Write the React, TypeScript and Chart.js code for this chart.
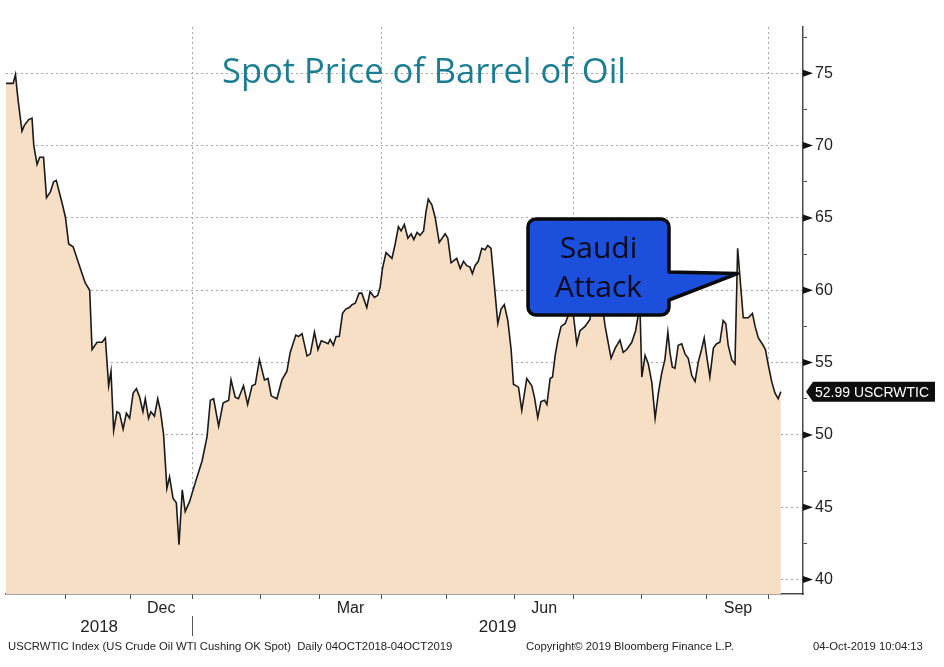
import React, { useEffect, useRef } from 'react';
import { Chart, registerables } from 'chart.js';

Chart.register(...registerables);

// ---- data (x = trading-day index from 04-Oct-2018, y = USD per barrel) ----
const tradingDay = [
  0, 2.4, 3.2, 4.0, 5.4, 6.2, 7.7, 8.8, 9.4, 10.5,
  11.4, 12.7, 13.7, 15.0, 16.1, 17.0, 19.0, 20.1, 21.2, 22.7,
  25.7, 26.8, 28.3, 29.1, 30.8, 32.5, 33.6, 34.7, 35.5, 36.4,
  37.5, 38.4, 39.6, 40.7, 41.8, 43.0, 44.1, 45.2, 46.3, 47.1,
  48.2, 49.0, 50.2, 51.3, 52.2, 53.3, 54.4, 55.3, 56.5, 57.6,
  58.5, 59.6, 60.6, 62.1, 64.0, 66.3, 68.0, 69.1, 70.2, 71.9,
  73.4, 75.3, 76.1, 77.5, 78.6, 80.3, 81.7, 83.2, 84.3, 85.7,
  87.4, 88.6, 89.7, 91.6, 93.3, 95.0, 96.1, 98.0, 98.9, 100.1,
  101.8, 102.9, 104.3, 105.5, 106.6, 107.9, 108.9, 109.6, 110.7, 111.6,
  112.7, 113.8, 114.9, 116.1, 117.0, 118.1, 119.4, 120.3, 122.0, 123.1,
  124.6, 125.7, 126.5, 127.3, 128.5, 130.5, 131.6, 132.7, 133.6, 134.7,
  135.9, 137.0, 137.9, 139.0, 140.0, 141.2, 142.0, 142.8, 144.0, 145.1,
  146.5, 148.5, 149.4, 150.5, 152.4, 153.6, 154.7, 155.8, 156.9, 157.7,
  158.6, 159.7, 160.9, 162.0, 162.9, 164.0, 165.2, 166.3, 167.4, 168.5,
  169.7, 170.8, 171.6, 173.3, 174.4, 176.1, 177.8, 178.7, 179.8, 180.9,
  182.1, 182.9, 184.0, 184.8, 185.7, 186.6, 187.7, 189.1, 190.2, 191.4,
  193.0, 194.1, 195.8, 197.5, 198.2, 199.2, 200.2, 201.2, 202.6, 204.6,
  206.0, 207.6, 208.7, 209.9, 211.6, 212.9, 213.8, 214.4, 215.0, 216.1,
  217.2, 218.4, 219.5, 220.6, 221.7, 222.8, 223.8, 224.5, 225.3, 226.2,
  227.3, 228.5, 229.6, 230.7, 231.9, 233.0, 234.1, 235.2, 236.1, 236.9,
  238.0, 239.2, 240.3, 241.4, 242.5, 243.4, 244.2, 245.4, 246.5, 247.4,
  248.5, 249.3, 251.0, 252.4, 253.3, 254.4, 255.7, 256.8, 257.7, 258.9,
  260.0, 261.1, 262.0,
];

const priceUSD = [
  74.3, 74.3, 74.9, 73.3, 71.0, 71.4, 71.8, 71.9, 70.0, 68.7,
  69.2, 69.2, 66.4, 66.8, 67.5, 67.6, 66.0, 65.05, 63.2, 63.0,
  61.15, 60.5, 60.0, 55.9, 56.4, 56.4, 56.7, 53.4, 54.4, 50.3,
  51.6, 51.5, 50.4, 51.5, 51.15, 52.9, 53.2, 52.6, 51.6, 52.5,
  51.15, 51.6, 51.3, 52.5, 51.7, 50.0, 46.3, 47.1, 45.6, 45.3,
  42.4, 46.2, 44.7, 45.4, 46.7, 48.2, 49.9, 52.4, 52.5, 50.6,
  52.2, 52.4, 53.8, 52.6, 52.5, 53.4, 52.1, 53.4, 53.5, 55.2,
  53.8, 53.9, 52.7, 52.5, 53.8, 54.4, 55.7, 56.9, 56.8, 57.0,
  55.45, 55.6, 57.1, 55.9, 56.5, 56.4, 56.3, 56.6, 56.2, 56.8,
  56.8, 58.4, 58.7, 58.8, 59.0, 59.1, 59.8, 59.8, 58.8, 59.9,
  59.5, 59.65, 60.2, 61.5, 62.6, 62.2, 63.2, 64.4, 64.1, 64.55,
  63.6, 63.9, 63.5, 64.0, 63.8, 64.1, 65.4, 66.3, 65.9, 65.05,
  63.3, 63.9, 63.6, 61.9, 62.2, 61.5, 62.0, 61.7, 61.6, 61.15,
  61.7, 62.0, 62.9, 62.8, 63.1, 62.9, 60.2, 57.7, 58.7, 59.0,
  57.9, 55.9, 53.5, 53.3, 51.7, 53.9, 53.4, 52.6, 51.2, 52.3,
  52.4, 52.1, 53.9, 54.0, 55.5, 56.55, 57.5, 57.7, 58.3, 59.1,
  56.3, 57.2, 57.5, 58.0, 60.4, 60.2, 60.2, 59.6, 57.5, 55.3,
  56.0, 56.55, 55.7, 55.9, 56.4, 57.2, 58.3, 58.6, 54.0, 55.5,
  54.9, 53.6, 51.15, 52.9, 54.25, 55.2, 57.1, 55.7, 54.7, 54.6,
  56.2, 56.3, 55.6, 55.3, 54.1, 53.7, 55.05, 55.9, 56.7, 55.5,
  54.0, 56.0, 56.3, 56.4, 57.9, 57.7, 56.2, 55.2, 54.9, 62.9,
  60.1, 58.1, 58.1, 58.4, 57.5, 56.7, 56.3, 55.9, 54.9, 53.7,
  52.9, 52.5, 52.99,
];

const lastPrice = 52.99;
const tickerName = 'USCRWTIC';

// ---- axes ----
const xMin = 0;
const xMax = 269.5;
const yMin = 39;
const yMax = 78.2;
const monthBoundaries = [20, 42, 63, 86, 106, 127, 149, 172, 192, 215, 237, 258];
const quarterStarts = [63, 127, 192, 258];
const monthLabels = ['Dec', 'Mar', 'Jun', 'Sep'];
const monthLabelDays = [52.5, 116.5, 182, 247.5];
const yearLabels = ['2018', '2019'];
const yearLabelDays = [31.5, 166.25];
const yearSeparatorDay = 63;
const yMajorTicks = [40, 45, 50, 55, 60, 65, 70, 75];
const yMinorTicks = [42.5, 47.5, 52.5, 57.5, 62.5, 67.5, 72.5, 77.5];

// ---- texts ----
const titleText = 'Spot Price of Barrel of Oil';
const calloutLines = ['Saudi', 'Attack'];
const calloutTipDay = 247.3;
const calloutTipValue = 61.15;
const footerLeft = 'USCRWTIC Index (US Crude Oil WTI Cushing OK Spot)  Daily 04OCT2018-04OCT2019';
const footerMid = 'Copyright\u00A9 2019 Bloomberg Finance L.P.';
const footerRight = '04-Oct-2019 10:04:13';

const FONT = '"Liberation Sans", Arial, sans-serif';
const TITLE_FONT = '"Open Sans", Lato, sans-serif';

const GRID_COLOR = '#a6a6a6';
const AXIS_COLOR = '#4a4a4a';
const FILL_COLOR = '#f6dfc5';
const LINE_COLOR = '#1a1a1a';

const isIn = (arr: number[], v: number) => arr.some((a) => Math.abs(a - v) < 1e-6);

function fitText(ctx: CanvasRenderingContext2D, text: string, x: number, y: number, maxW: number) {
  const w = ctx.measureText(text).width;
  if (w <= maxW) {
    ctx.fillText(text, x, y);
    return;
  }
  ctx.save();
  ctx.translate(x, y);
  ctx.scale(maxW / w, 1);
  ctx.fillText(text, 0, 0);
  ctx.restore();
}

const overlayPlugin = {
  id: 'overlay',
  afterDraw(chart: any) {
    const { ctx, chartArea } = chart;
    const xs = chart.scales.x;
    const ys = chart.scales.y;
    ctx.save();

    // y-axis major tick arrows
    ctx.fillStyle = '#111';
    for (const v of yMajorTicks) {
      const py = ys.getPixelForValue(v);
      ctx.beginPath();
      ctx.moveTo(chartArea.right, py - 3.5);
      ctx.lineTo(chartArea.right + 10, py);
      ctx.lineTo(chartArea.right, py + 3.5);
      ctx.closePath();
      ctx.fill();
    }

    // title
    ctx.font = `34.5px ${TITLE_FONT}`;
    ctx.fillStyle = '#1b7d93';
    ctx.textAlign = 'left';
    ctx.textBaseline = 'alphabetic';
    fitText(ctx, titleText, 222, 83, 406);

    // callout
    const bx0 = 528, bx1 = 669, by0 = 219, by1 = 315, r = 8;
    const tipX = xs.getPixelForValue(calloutTipDay);
    const tipY = ys.getPixelForValue(calloutTipValue);
    const pTop = 272, pBot = 300;
    ctx.beginPath();
    ctx.moveTo(bx0 + r, by0);
    ctx.lineTo(bx1 - r, by0);
    ctx.arcTo(bx1, by0, bx1, by0 + r, r);
    ctx.lineTo(bx1, pTop);
    ctx.lineTo(tipX, tipY);
    ctx.lineTo(bx1, pBot);
    ctx.lineTo(bx1, by1 - r);
    ctx.arcTo(bx1, by1, bx1 - r, by1, r);
    ctx.lineTo(bx0 + r, by1);
    ctx.arcTo(bx0, by1, bx0, by1 - r, r);
    ctx.lineTo(bx0, by0 + r);
    ctx.arcTo(bx0, by0, bx0 + r, by0, r);
    ctx.closePath();
    ctx.fillStyle = '#1b4fdc';
    ctx.fill();
    ctx.lineWidth = 3.5;
    ctx.lineJoin = 'round';
    ctx.strokeStyle = '#0a0a0a';
    ctx.stroke();
    ctx.fillStyle = '#0a0a1a';
    ctx.font = `30px ${TITLE_FONT}`;
    ctx.textAlign = 'center';
    ctx.fillText(calloutLines[0], (bx0 + bx1) / 2, 258);
    ctx.fillText(calloutLines[1], (bx0 + bx1) / 2, 297);

    // last value label
    const ly = ys.getPixelForValue(lastPrice);
    const lx0 = chartArea.right + 3;
    ctx.beginPath();
    ctx.moveTo(lx0, ly);
    ctx.lineTo(lx0 + 7, ly - 10);
    ctx.lineTo(935, ly - 10);
    ctx.lineTo(935, ly + 10);
    ctx.lineTo(lx0 + 7, ly + 10);
    ctx.closePath();
    ctx.fillStyle = '#0d0d0d';
    ctx.fill();
    ctx.fillStyle = '#ffffff';
    ctx.font = `15px ${FONT}`;
    ctx.textAlign = 'left';
    ctx.textBaseline = 'middle';
    fitText(ctx, `${lastPrice.toFixed(2)} ${tickerName}`, lx0 + 9, ly + 1, 114);

    // year labels + separator
    ctx.fillStyle = '#222';
    ctx.font = `17px ${FONT}`;
    ctx.textAlign = 'center';
    ctx.textBaseline = 'middle';
    yearLabels.forEach((t, i) => {
      ctx.fillText(t, xs.getPixelForValue(yearLabelDays[i]), 627);
    });
    const sx = Math.round(xs.getPixelForValue(yearSeparatorDay)) + 0.5;
    ctx.strokeStyle = '#555';
    ctx.lineWidth = 1;
    ctx.beginPath();
    ctx.moveTo(sx, 616);
    ctx.lineTo(sx, 636);
    ctx.stroke();

    // footer
    ctx.fillStyle = '#222';
    ctx.font = `11.3px ${FONT}`;
    ctx.textAlign = 'left';
    ctx.textBaseline = 'middle';
    ctx.fillText(footerLeft, 8, 647);
    ctx.fillText(footerMid, 526, 647);
    ctx.fillText(footerRight, 813, 647);

    ctx.restore();
  },
};

export default function App() {
  const canvasRef = useRef<HTMLCanvasElement | null>(null);

  useEffect(() => {
    const canvas = canvasRef.current;
    if (!canvas) return;
    const points = tradingDay.map((d, i) => ({ x: d, y: priceUSD[i] }));
    const chart = new Chart(canvas, {
      type: 'line',
      data: {
        datasets: [
          {
            data: points,
            borderColor: LINE_COLOR,
            borderWidth: 1.6,
            backgroundColor: FILL_COLOR,
            fill: 'start',
            pointRadius: 0,
            tension: 0,
          },
        ],
      },
      options: {
        animation: false,
        responsive: false,
        maintainAspectRatio: false,
        devicePixelRatio: 1,
        layout: { padding: { left: 6, top: 27, right: 0, bottom: 0 } },
        plugins: { legend: { display: false }, tooltip: { enabled: false }, title: { display: false } },
        scales: {
          x: {
            type: 'linear',
            position: 'bottom',
            min: xMin,
            max: xMax,
            z: 1,
            afterBuildTicks: (scale: any) => {
              const vals = [...monthBoundaries, ...monthLabelDays].sort((a, b) => a - b);
              scale.ticks = vals.map((v) => ({ value: v }));
            },
            afterFit: (scale: any) => {
              scale.height = 73;
            },
            ticks: {
              autoSkip: false,
              maxRotation: 0,
              padding: 0,
              color: '#222',
              font: { family: FONT, size: 16 },
              callback: (value: any) => {
                const i = monthLabelDays.findIndex((d) => Math.abs(d - Number(value)) < 1e-6);
                return i >= 0 ? monthLabels[i] : '';
              },
            },
            grid: {
              drawOnChartArea: true,
              drawTicks: true,
              tickLength: 5,
              lineWidth: 1,
              color: (ctx: any) =>
                ctx.tick && isIn(quarterStarts, ctx.tick.value) ? GRID_COLOR : 'rgba(0,0,0,0)',
              tickColor: (ctx: any) =>
                ctx.tick && isIn(monthBoundaries, ctx.tick.value) ? AXIS_COLOR : 'rgba(0,0,0,0)',
            },
            border: { display: true, color: AXIS_COLOR, width: 1.5, dash: [2, 3] },
          },
          y: {
            type: 'linear',
            position: 'right',
            min: yMin,
            max: yMax,
            z: 1,
            afterBuildTicks: (scale: any) => {
              const vals = [...yMajorTicks, ...yMinorTicks].sort((a, b) => a - b);
              scale.ticks = vals.map((v) => ({ value: v }));
            },
            afterFit: (scale: any) => {
              scale.width = 141;
            },
            ticks: {
              autoSkip: false,
              padding: 8,
              color: '#222',
              font: { family: FONT, size: 16 },
              callback: (value: any) => (isIn(yMajorTicks, Number(value)) ? String(value) : ''),
            },
            grid: {
              drawOnChartArea: true,
              drawTicks: true,
              tickLength: 4,
              lineWidth: 1,
              color: (ctx: any) =>
                ctx.tick && isIn(yMajorTicks, ctx.tick.value) ? GRID_COLOR : 'rgba(0,0,0,0)',
              tickColor: (ctx: any) =>
                ctx.tick && isIn(yMinorTicks, ctx.tick.value) ? AXIS_COLOR : 'rgba(0,0,0,0)',
            },
            border: { display: true, color: AXIS_COLOR, width: 1.5, dash: [2, 3] },
          },
        },
      },
      plugins: [overlayPlugin],
    });
    return () => chart.destroy();
  }, []);

  return (
    <div style={{ position: 'fixed', left: 0, top: 0, width: 944, height: 667, background: '#ffffff' }}>
      <canvas ref={canvasRef} width={944} height={667} style={{ display: 'block', width: 944, height: 667 }} />
    </div>
  );
}
